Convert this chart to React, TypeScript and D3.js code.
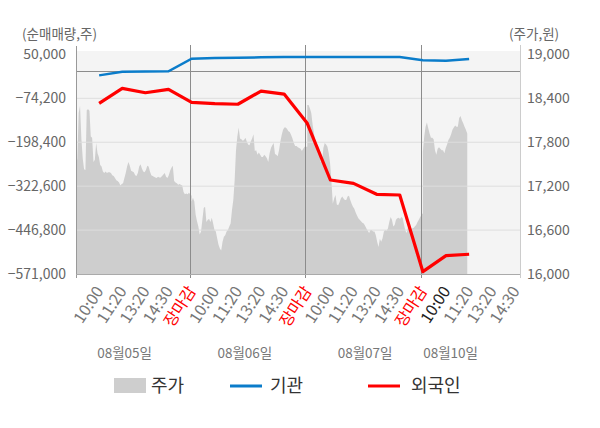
import { useEffect, useRef } from 'react'
import * as d3 from 'd3'

const days = ['08월05일', '08월06일', '08월07일', '08월10일']
const timeLabels = ['10:00', '11:20', '13:20', '14:30', '장마감']

// net buying (shares) at each time-label slot
const institution = [-9300, 1000, 1500, 2000, 37800, 39800, 40700, 41800, 42600, 42600, 42600, 42600, 42600, 42600, 33300, 32200, 37000]
const foreign = [-88500, -46100, -58500, -48900, -85400, -89000, -91000, -53700, -62200, -145000, -305200, -314600, -345600, -347600, -564400, -519200, -515200]

// intraday price (won), sampled at equal steps through each session
const price0805 = [17450, 17580, 18200, 18300, 17850, 17580, 17430, 17420, 18240, 18250,
  18230, 17880, 17860, 17530, 17560, 17790, 17650, 17600, 17490, 17470,
  17400, 17380, 17400, 17380, 17390, 17390, 17380, 17350, 17340, 17310,
  17280, 17270, 17250, 17210, 17230, 17240, 17310, 17380, 17470, 17530,
  17480, 17410, 17400, 17390, 17350, 17340, 17380, 17470, 17500, 17440,
  17400, 17390, 17420, 17480, 17470, 17400, 17350, 17340, 17330, 17320,
  17310, 17330, 17320, 17320, 17340, 17360, 17380, 17330, 17310, 17350,
  17410, 17450, 17480, 17270, 17250, 17240, 17220, 17230, 17220, 17210,
  17120, 17090, 17100, 17090, 17110, 17090, 17070]
const price0806 = [16990, 17040, 16990, 16810, 16720, 16650, 16540, 16580, 16740, 16900,
  16920, 16710, 16740, 16750, 16710, 16770, 16690, 16600, 16580, 16490,
  16400, 16350, 16320, 16440, 16510, 16530, 16580, 16600, 16650, 16690,
  16870, 17010, 17280, 17690, 17880, 18000, 17850, 17840, 17820, 17830,
  17860, 17810, 17770, 17760, 17810, 17850, 17910, 17680, 17690, 17630,
  17660, 17630, 17600, 17600, 17630, 17610, 17580, 17530, 17650, 17720,
  17760, 17790, 17640, 17630, 17610, 17690, 17810, 17900, 17970, 18000,
  18000, 17980, 17950, 17940, 17900, 17850, 17790, 17750, 17750, 17730,
  17720, 17710, 17680, 17710, 17740, 17740, 17740]
const price0807 = [18310, 18310, 18260, 18200, 18040, 17920, 17810, 17760, 17750, 17690,
  17530, 17530, 17720, 17790, 17770, 17740, 17650, 17510, 17260, 16960,
  17030, 17080, 16950, 16940, 16980, 17030, 17060, 17030, 17010, 17010,
  17060, 17070, 17010, 16960, 16920, 16890, 16840, 16800, 16760, 16740,
  16720, 16700, 16690, 16660, 16620, 16590, 16560, 16600, 16600, 16580,
  16580, 16530, 16440, 16370, 16480, 16440, 16490, 16580, 16600, 16590,
  16620, 16710, 16780, 16740, 16650, 16670, 16740, 16760, 16770, 16750,
  16780, 16760, 16670, 16590, 16560, 16650, 16650, 16620, 16620, 16630,
  16650, 16670, 16710, 16740, 16780, 16810, 16830]
const price0810 = [17670, 17880, 18010, 18070, 17990, 17920, 17860, 17860, 17840, 17690,
  17630, 17710, 17730, 17710, 17690, 17690, 17650, 17720, 17770, 17830,
  17860, 17910, 17970, 18000, 18030, 18010, 18010, 18130, 18160, 18100,
  18060, 18010, 17970, 17920]
const prices = [price0805, price0806, price0807, price0810]
const samplesPerDay = 87

const leftTicks = [50000, -74200, -198400, -322600, -446800, -571000]
const rightTicks = [19000, 18400, 17800, 17200, 16600, 16000]

const FONT = '"Noto Sans CJK KR", "Noto Sans", sans-serif'

export default function App() {
  const svgRef = useRef<SVGSVGElement>(null)

  useEffect(() => {
    if (!svgRef.current) return
    const svg = d3.select(svgRef.current)
    svg.selectAll('*').remove()

    const left = 76, right = 520, top = 51, bottom = 274
    // x in "label slots": each session spans 5 slots, 장마감 sits on the day boundary
    const x = d3.scaleLinear().domain([-1, 18.2]).range([left, right])
    const yL = d3.scaleLinear().domain([-571000, 50000]).range([bottom, 54.4])
    const yR = d3.scaleLinear().domain([16000, 19000]).range([bottom, 54.4])

    svg.append('rect')
      .attr('x', left).attr('y', top)
      .attr('width', right - left).attr('height', bottom - top)
      .attr('fill', '#f4f4f4')

    // price area
    const pricePts = prices.flatMap((arr, d) =>
      arr.map((p, k) => ({ s: 5 * d - 1 + (5 * k) / (samplesPerDay - 1), p })))
    const area = d3.area<{ s: number; p: number }>()
      .x(d => x(d.s))
      .y0(bottom)
      .y1(d => yR(d.p))
    svg.append('path')
      .datum(pricePts)
      .attr('d', area)
      .attr('fill', '#cecece')

    // horizontal grid
    svg.append('g').selectAll('line')
      .data(leftTicks.slice(1, -1))
      .enter().append('line')
      .attr('x1', left).attr('x2', right)
      .attr('y1', d => yL(d)).attr('y2', d => yL(d))
      .attr('stroke', '#dedede')

    // zero line
    svg.append('line')
      .attr('x1', left).attr('x2', right)
      .attr('y1', Math.round(yL(0)) - 0.5).attr('y2', Math.round(yL(0)) - 0.5)
      .attr('stroke', '#8c8c8c')

    // day separators
    svg.append('g').selectAll('line')
      .data([4, 9, 14])
      .enter().append('line')
      .attr('x1', d => Math.round(x(d)) - 1.5).attr('x2', d => Math.round(x(d)) - 1.5)
      .attr('y1', 45).attr('y2', bottom + 4)
      .attr('stroke', '#8c8c8c')

    // axes lines
    svg.append('line')
      .attr('x1', left + 0.5).attr('x2', left + 0.5)
      .attr('y1', 46).attr('y2', bottom + 4)
      .attr('stroke', '#999')
    svg.append('line')
      .attr('x1', right + 0.5).attr('x2', right + 0.5)
      .attr('y1', 45).attr('y2', bottom + 4)
      .attr('stroke', '#ccc')
    svg.append('line')
      .attr('x1', left).attr('x2', right)
      .attr('y1', bottom + 0.5).attr('y2', bottom + 0.5)
      .attr('stroke', '#aaa')

    // lines
    const line = d3.line<number>()
      .x((_d, i) => x(i))
      .y(d => yL(d))
    svg.append('path')
      .datum(institution)
      .attr('d', line)
      .attr('fill', 'none')
      .attr('stroke', '#0a7cca')
      .attr('stroke-width', 2.5)
    svg.append('path')
      .datum(foreign)
      .attr('d', line)
      .attr('fill', 'none')
      .attr('stroke', '#ff0000')
      .attr('stroke-width', 3.2)
      .attr('stroke-linejoin', 'round')

    // left axis labels
    svg.append('g').selectAll('text')
      .data(leftTicks)
      .enter().append('text')
      .attr('x', 66).attr('y', d => yL(d))
      .attr('dy', '0.36em')
      .attr('text-anchor', 'end')
      .attr('font-family', FONT).attr('font-size', 14)
      .attr('fill', '#666')
      .text(d => d3.format(',')(d))
    svg.append('text')
      .attr('x', 22).attr('y', 39)
      .attr('font-family', FONT).attr('font-size', 13.5)
      .attr('fill', '#666')
      .text('(순매매량,주)')

    // right axis labels
    svg.append('g').selectAll('text')
      .data(rightTicks)
      .enter().append('text')
      .attr('x', 527).attr('y', d => yR(d))
      .attr('dy', '0.36em')
      .attr('font-family', FONT).attr('font-size', 14)
      .attr('fill', '#666')
      .text(d => d3.format(',')(d))
    svg.append('text')
      .attr('x', 509).attr('y', 39)
      .attr('font-family', FONT).attr('font-size', 13.5)
      .attr('fill', '#666')
      .text('(주가,원)')

    // x tick labels
    const slots = d3.range(19)
    svg.append('g').selectAll('text')
      .data(slots)
      .enter().append('text')
      .attr('transform', d => `translate(${x(d) + 5},${bottom + 17}) rotate(-57)`)
      .attr('text-anchor', 'end')
      .attr('font-family', FONT).attr('font-size', 16)
      .attr('fill', d => d % 5 === 4 ? '#ff0000' : d === 15 ? '#222' : '#777')
      .text(d => timeLabels[d % 5])

    // date labels
    const dateSlots = [1.1, 6.3, 11.5, 15.2]
    svg.append('g').selectAll('text')
      .data(days)
      .enter().append('text')
      .attr('x', (_d, i) => x(dateSlots[i]))
      .attr('y', 358)
      .attr('text-anchor', 'middle')
      .attr('font-family', FONT).attr('font-size', 13.5)
      .attr('fill', '#777')
      .text(d => d)

    // legend
    const lg = svg.append('g').attr('font-family', FONT).attr('font-size', 18).attr('fill', '#333')
    lg.append('rect').attr('x', 114).attr('y', 378).attr('width', 32).attr('height', 15).attr('fill', '#cecece')
    lg.append('text').attr('x', 151).attr('y', 392).text('주가')
    lg.append('line').attr('x1', 230).attr('x2', 262).attr('y1', 386).attr('y2', 386)
      .attr('stroke', '#0a7cca').attr('stroke-width', 3)
    lg.append('text').attr('x', 270).attr('y', 392).text('기관')
    lg.append('line').attr('x1', 368).attr('x2', 400).attr('y1', 386).attr('y2', 386)
      .attr('stroke', '#ff0000').attr('stroke-width', 3)
    lg.append('text').attr('x', 411).attr('y', 392).text('외국인')
  }, [])

  return (
    <svg
      ref={svgRef}
      width={600}
      height={428}
      style={{ position: 'absolute', left: 0, top: 0, background: '#fff' }}
    />
  )
}
